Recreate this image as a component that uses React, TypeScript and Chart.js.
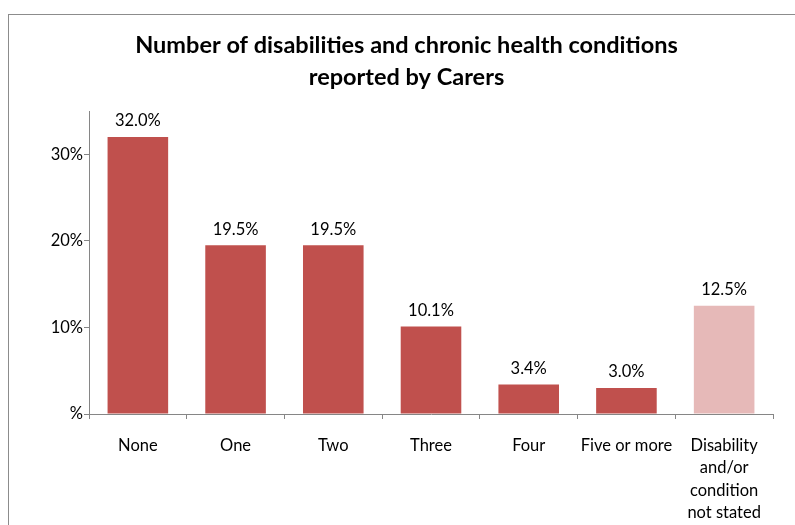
import React, { useEffect, useRef } from "react";
import { Chart, registerables } from "chart.js";

Chart.register(...registerables);

const categories: (string | string[])[] = [
  "None",
  "One",
  "Two",
  "Three",
  "Four",
  "Five or more",
  ["Disability", "and/or", "condition", "not stated"],
];
const values = [32.0, 19.5, 19.5, 10.1, 3.4, 3.0, 12.5];
const barColors = ["#C0504D", "#C0504D", "#C0504D", "#C0504D", "#C0504D", "#C0504D", "#E6B9B8"];
const yTicks = [0, 10, 20, 30];
const titleLines = ["Number of disabilities and chronic health conditions", "reported by Carers"];

const FONT = "Lato, 'Open Sans', sans-serif";
const AXIS = "#868686";

const valueLabels = {
  id: "valueLabels",
  afterDatasetsDraw(chart: any) {
    const ctx = chart.ctx;
    const meta = chart.getDatasetMeta(0);
    ctx.save();
    ctx.font = `16.5px ${FONT}`;
    ctx.fillStyle = "#000";
    ctx.textAlign = "center";
    ctx.textBaseline = "middle";
    meta.data.forEach((el: any, i: number) => {
      ctx.fillText(values[i].toFixed(1) + "%", el.x, el.y - 16);
    });
    ctx.restore();
  },
};

export default function App() {
  const ref = useRef<HTMLCanvasElement>(null);
  useEffect(() => {
    if (!ref.current) return;
    const chart = new Chart(ref.current, {
      type: "bar",
      data: {
        labels: categories,
        datasets: [
          {
            data: values,
            backgroundColor: barColors,
            borderWidth: 0,
            barPercentage: 0.62,
            categoryPercentage: 1,
          },
        ],
      },
      plugins: [valueLabels],
      options: {
        responsive: false,
        animation: false,
        layout: { padding: 0 },
        plugins: {
          legend: { display: false },
          tooltip: { enabled: false },
          title: {
            display: true,
            text: titleLines,
            color: "#000",
            font: { family: FONT, size: 23.5, weight: "bold", lineHeight: 1.362 },
            padding: { top: 14, bottom: 18 },
          },
        },
        scales: {
          x: {
            grid: { drawOnChartArea: false, drawTicks: true, tickLength: 5, color: AXIS, offset: true },
            border: { display: true, color: AXIS },
            ticks: {
              color: "#000",
              font: { family: FONT, size: 16.5, lineHeight: 1.37 },
              padding: 15,
              maxRotation: 0,
              autoSkip: false,
            },
            afterFit: (scale: any) => {
              scale.height = 111;
            },
          },
          y: {
            min: 0,
            max: 35,
            grid: { drawOnChartArea: false, drawTicks: true, tickLength: 5, color: AXIS },
            border: { display: true, color: AXIS },
            ticks: {
              color: "#000",
              font: { family: FONT, size: 16.5 },
              padding: 1,
              callback: (v: any) => (Number(v) === 0 ? "%" : v + "%"),
            },
            afterBuildTicks: (scale: any) => {
              scale.ticks = yTicks.map((v) => ({ value: v }));
            },
            afterFit: (scale: any) => {
              scale.width = 80;
            },
          },
          spacer: {
            type: "linear",
            position: "right",
            min: 0,
            max: 35,
            grid: { display: false, drawTicks: false },
            border: { display: false },
            ticks: { display: false },
            afterFit: (scale: any) => {
              scale.width = 31;
            },
          },
        },
      },
    });
    return () => chart.destroy();
  }, []);

  return (
    <div
      style={{
        position: "fixed",
        left: 8,
        top: 14,
        width: 800,
        height: 530,
        border: "1px solid #8c8c8c",
        background: "#fff",
      }}
    >
      <canvas ref={ref} width={795} height={510} style={{ display: "block" }} />
    </div>
  );
}
